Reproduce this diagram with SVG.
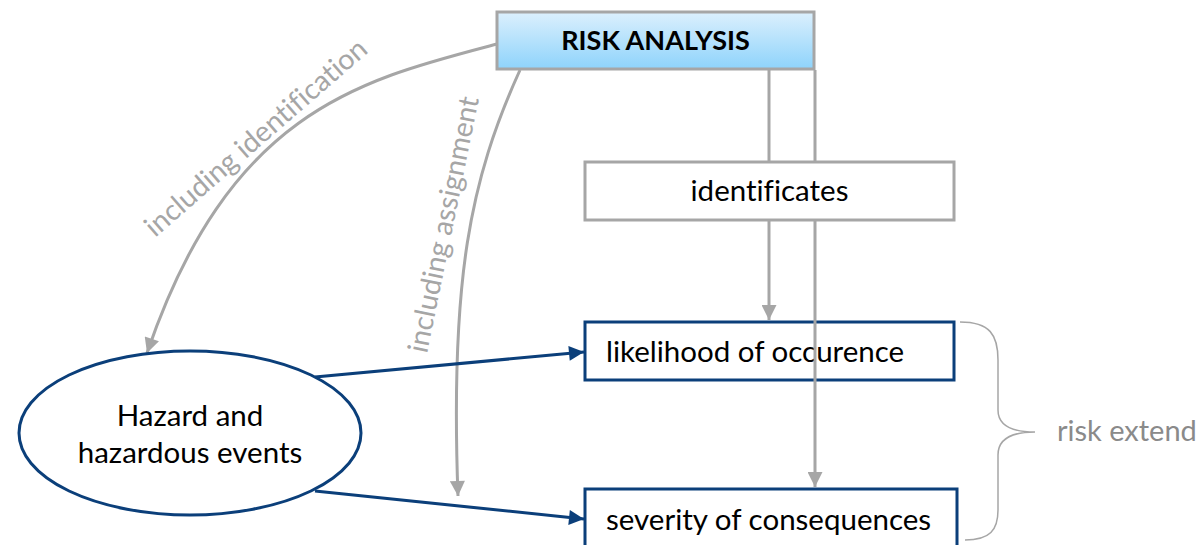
<svg xmlns="http://www.w3.org/2000/svg" width="1201" height="545" viewBox="0 0 1201 545">
<defs>
<linearGradient id="gBlue" x1="0" y1="0" x2="0" y2="1">
<stop offset="0" stop-color="#dcf0fd"/>
<stop offset="1" stop-color="#8ed3fb"/>
</linearGradient>
<marker id="aGray" viewBox="0 0 10 10" refX="10" refY="5" markerWidth="5.5" markerHeight="5" orient="auto" markerUnits="strokeWidth">
<path d="M0,0 L10,5 L0,10 z" fill="#a6a6a6"/>
</marker>
<marker id="aBlue" viewBox="0 0 10 10" refX="10" refY="5" markerWidth="5.5" markerHeight="5" orient="auto" markerUnits="strokeWidth">
<path d="M0,0 L10,5 L0,10 z" fill="#0b3f7a"/>
</marker>
</defs>
<style>
text{font-family:Lato,"Liberation Sans",sans-serif;font-variant-ligatures:none;font-feature-settings:"liga" 0,"clig" 0;}
.t{font-size:29.5px;fill:#000;}
.g{font-size:28.5px;fill:#a6a6a6;}
.gl{fill:none;stroke:#a6a6a6;stroke-width:3;}
.bl{fill:none;stroke:#0b3f7a;stroke-width:3;}
.bx{fill:#fff;stroke:#0b3f7a;stroke-width:3;}
</style>
<rect width="1201" height="545" fill="#fff"/>
<g id="likelihood">
<rect class="bx" x="585" y="322" width="369" height="58"/>
<text class="t" x="606" y="362">likelihood of occurence</text>
</g>
<g id="severity">
<rect class="bx" x="585" y="489" width="372" height="60"/>
<text class="t" x="606" y="530">severity of consequences</text>
</g>
<g id="connectors">
<path class="gl" d="M497,44 C360,80 230,110 147,353" marker-end="url(#aGray)"/>
<path class="gl" d="M520,70 C470,180 450,280 458,496" marker-end="url(#aGray)"/>
<path class="gl" d="M769,70 L769,162"/>
<path class="gl" d="M769,220 L769,320" marker-end="url(#aGray)"/>
<path class="gl" d="M815,70 L815,487" marker-end="url(#aGray)"/>
<path class="bl" d="M315,377 L584,352" marker-end="url(#aBlue)"/>
<path class="bl" d="M315,491 L584,519" marker-end="url(#aBlue)"/>
<text class="g" transform="translate(155,238) rotate(-41)">including identification</text>
<text class="g" transform="translate(427,354) rotate(-78.5)">including assignment</text>
</g>
<g id="risk-analysis">
<rect x="497" y="12" width="317" height="57" fill="url(#gBlue)" stroke="#a6a6a6" stroke-width="3"/>
<text x="655.5" y="50" text-anchor="middle" font-size="27" font-weight="bold" fill="#000">RISK ANALYSIS</text>
</g>
<g id="identificates">
<rect x="585" y="162" width="369" height="58" fill="#fff" stroke="#a6a6a6" stroke-width="3"/>
<text class="t" x="769.5" y="201" text-anchor="middle">identificates</text>
</g>
<g id="hazard">
<ellipse cx="190" cy="433" rx="171" ry="82" class="bx"/>
<text class="t" x="190" y="426" text-anchor="middle">Hazard and</text>
<text class="t" x="190" y="463" text-anchor="middle">hazardous events</text>
</g>
<g id="risk-extend">
<path d="M960,322 C990,322 998,335 998,360 L998,410 C998,425 1010,432 1035,432 C1010,432 998,440 998,455 L998,510 C998,530 990,540 965,540" fill="none" stroke="#a6a6a6" stroke-width="1.5"/>
<text x="1057" y="441" font-size="29" fill="#8a8a8a">risk extend</text>
</g>
</svg>
